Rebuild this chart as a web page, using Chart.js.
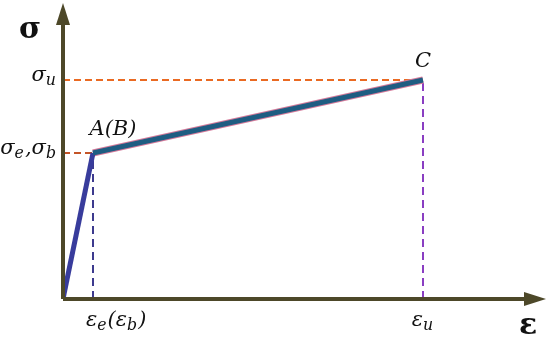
<!DOCTYPE html>
<html><head><meta charset="utf-8">
<script src="https://cdn.jsdelivr.net/npm/chart.js@4"></script>
<style>html,body{margin:0;padding:0;background:#fff}#wrap{width:550px;height:343px}</style>
</head><body><div id="wrap"><canvas id="c" width="550" height="343"></canvas></div>
<script>
// Key points of the bilinear stress-strain curve (strain unit, stress unit)
const strainPoints = [0, 1, 12];      // O, A(B), C
const stressPoints = [0, 2, 3];
const axisMax = {x: 16, y: 4};
const pointLabels = ["", "A(B)", "C"];
const yTickLabels = [{v: 3, parts: [["σ",0],["u",1]]}, {v: 2, parts: [["σ",0],["e",1],[",",0],["σ",0],["b",1]]}];
const xTickLabels = [{v: 1, align: 'left', parts: [["ε",0],["e",1],["(ε",0],["b",1],[")",0]]}, {v: 12, align: 'center', parts: [["ε",0],["u",1]]}];

const curve = strainPoints.map((x,i)=>({x, y: stressPoints[i]}));
const AX = '#4d4829';
const F = '"DejaVu Serif",serif';

function drawParts(ctx, parts, x, y, size, align){
  let w = 0;
  parts.forEach(([t,s])=>{ctx.font = `italic ${s?size*0.75:size}px ${F}`; w += ctx.measureText(t).width + (s?1:0);});
  let cx = align==='right' ? x - w : align==='center' ? x - w/2 : x;
  parts.forEach(([t,s])=>{
    ctx.font = `italic ${s?size*0.75:size}px ${F}`;
    ctx.fillText(t, cx, s ? y + size*0.25 : y);
    cx += ctx.measureText(t).width + (s?1:0);
  });
}

const deco = {
  id: 'deco',
  afterDatasetsDraw(chart){
    const ctx = chart.ctx, xs = chart.scales.x, ys = chart.scales.y;
    const ox = xs.getPixelForValue(0), oy = ys.getPixelForValue(0);
    const tx = xs.getPixelForValue(axisMax.x), ty = ys.getPixelForValue(axisMax.y);
    ctx.save();
    ctx.strokeStyle = AX; ctx.fillStyle = AX; ctx.lineWidth = 4;
    ctx.beginPath(); ctx.moveTo(ox, oy); ctx.lineTo(ox, ty + 14); ctx.stroke();
    ctx.beginPath(); ctx.moveTo(ox, oy); ctx.lineTo(tx - 14, oy); ctx.stroke();
    ctx.beginPath(); ctx.moveTo(ox, ty - 4); ctx.lineTo(ox - 7, ty + 18); ctx.lineTo(ox + 7, ty + 18); ctx.closePath(); ctx.fill();
    ctx.beginPath(); ctx.moveTo(tx + 3, oy); ctx.lineTo(tx - 19, oy - 7); ctx.lineTo(tx - 19, oy + 7); ctx.closePath(); ctx.fill();
    ctx.fillStyle = '#111'; ctx.textBaseline = 'middle';
    ctx.font = `bold 30px ${F}`; ctx.textAlign = 'center';
    ctx.fillText('σ', 30, 30);
    ctx.fillText('ε', 528, 326);
    ctx.textAlign = 'left';
    yTickLabels.forEach(t=>{
      drawParts(ctx, t.parts, ox - 6, ys.getPixelForValue(t.v) - 4, 21, 'right');
    });
    xTickLabels.forEach(t=>{
      const px = xs.getPixelForValue(t.v);
      drawParts(ctx, t.parts, t.align === 'left' ? px - 7 : px, oy + 22, 21, t.align);
    });
    curve.forEach((p,i)=>{
      if (!pointLabels[i]) return;
      const px = xs.getPixelForValue(p.x), py = ys.getPixelForValue(p.y);
      drawParts(ctx, [[pointLabels[i],0]], px + (i===1?20:0), py - (i===1?23:18), 21, 'center');
    });
    ctx.restore();
  }
};

const dash = (pts, color, d) => ({data: pts, borderColor: color, borderWidth: 2, borderDash: d, pointRadius: 0, fill: false});

new Chart(document.getElementById('c'), {
  type: 'line',
  data: {datasets: [
    {data: curve, borderColor: '#1f5d82', borderWidth: 5, pointRadius: 0, tension: 0,
     segment: {borderColor: c => c.p0DataIndex === 0 ? '#383c9c' : '#1f5d82'}},
    {data: curve, borderColor: '#d47a9a', borderWidth: 7, pointRadius: 0, tension: 0,
     segment: {borderColor: c => c.p0DataIndex === 0 ? 'rgba(0,0,0,0)' : '#d47a9a'}},
    dash([{x:0,y:stressPoints[2]},{x:strainPoints[2],y:stressPoints[2]}], '#ea6a22', [7,4]),
    dash([{x:0,y:stressPoints[1]},{x:strainPoints[1],y:stressPoints[1]}], '#c45528', [7,4]),
    dash([{x:strainPoints[1],y:0},{x:strainPoints[1],y:stressPoints[1]}], '#3d3a8e', [8,5]),
    dash([{x:strainPoints[2],y:0},{x:strainPoints[2],y:stressPoints[2]}], '#8a3ec2', [8,5])
  ]},
  options: {
    responsive: false, animation: false,
    layout: {padding: {left: 63, right: 7, top: 7, bottom: 44}},
    plugins: {legend: {display: false}, tooltip: {enabled: false}},
    scales: {
      x: {type: 'linear', min: 0, max: axisMax.x, display: false},
      y: {type: 'linear', min: 0, max: axisMax.y, display: false}
    }
  },
  plugins: [deco]
});
</script></body></html>
